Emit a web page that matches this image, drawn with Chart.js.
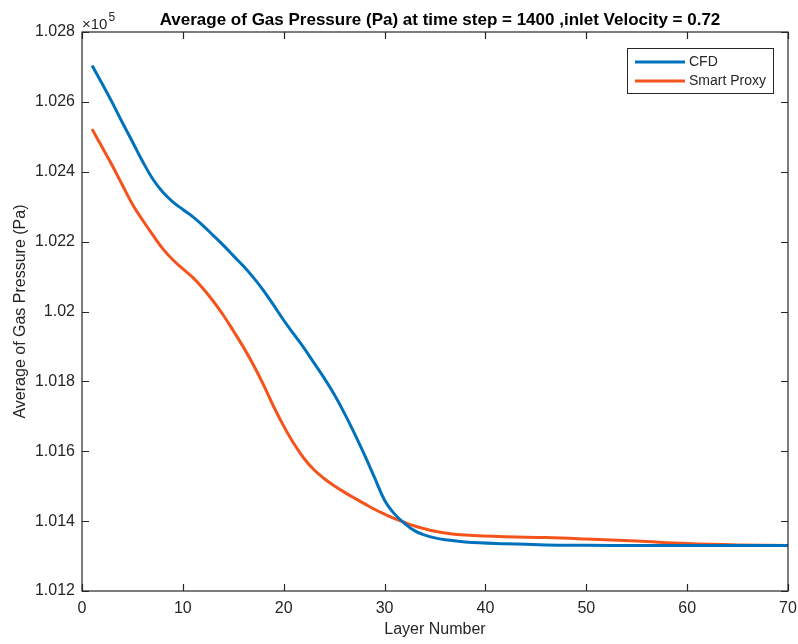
<!DOCTYPE html>
<html>
<head>
<meta charset="utf-8">
<script src="https://cdn.jsdelivr.net/npm/chart.js@4"></script>
<style>
  html, body { margin: 0; padding: 0; background: #ffffff; }
  #wrap { width: 798px; height: 644px; }
</style>
</head>
<body>
<div id="wrap"><canvas id="c" width="798" height="644"></canvas></div>
<script>
// ---- data (pressure in units of 1e5 Pa) ----
const layers = [1, 2, 3, 4, 5, 6, 7, 8, 9, 10, 11, 12, 13, 14, 15, 16, 17, 18, 19, 20,
                21, 22, 23, 24, 25, 26, 27, 28, 29, 30, 31, 32, 33, 34, 35, 36, 38, 42, 46, 50, 55, 60, 65, 70];
const cfdValues = [1.02704, 1.02652, 1.02598, 1.02541, 1.02486, 1.02430, 1.02380, 1.02342, 1.02314, 1.02292,
                   1.02271, 1.02246, 1.02218, 1.02190, 1.02160, 1.02130, 1.02097, 1.02060, 1.02018, 1.01975,
                   1.01935, 1.01896, 1.01853, 1.01810, 1.01763, 1.01710, 1.01652, 1.01590, 1.01525, 1.01460,
                   1.01420, 1.01393, 1.01372, 1.01360, 1.01352, 1.01347, 1.01340, 1.01335, 1.01332, 1.01331,
                   1.01330, 1.01330, 1.01330, 1.01330];
const proxyValues = [1.02522, 1.02470, 1.02418, 1.02362, 1.02307, 1.02262, 1.02220, 1.02180, 1.02148, 1.02122,
                     1.02097, 1.02066, 1.02030, 1.01990, 1.01945, 1.01898, 1.01847, 1.01790, 1.01728, 1.01672,
                     1.01622, 1.01580, 1.01547, 1.01522, 1.01501, 1.01483, 1.01466, 1.01450, 1.01434, 1.01420,
                     1.01407, 1.01396, 1.01386, 1.01378, 1.01371, 1.01366, 1.01360, 1.01355, 1.01353, 1.01349,
                     1.01343, 1.01336, 1.01332, 1.01330];
const seriesNames = ['CFD', 'Smart Proxy'];
const xTickValues = [0, 10, 20, 30, 40, 50, 60, 70];
const yTickValues = [1.012, 1.014, 1.016, 1.018, 1.020, 1.022, 1.024, 1.026, 1.028];
const titleText = 'Average of Gas Pressure (Pa) at time step = 1400 ,inlet Velocity = 0.72';
const xTitle = 'Layer Number';
const yTitle = 'Average of Gas Pressure (Pa)';

const AX = '#262626';
const FONT = 'Arial, "Liberation Sans", sans-serif';

const matlabAxes = {
  id: 'matlabAxes',
  afterDraw(chart) {
    const { ctx, chartArea: a, scales: { x, y } } = chart;
    ctx.save();
    // box
    ctx.strokeStyle = AX;
    ctx.lineWidth = 1.2;
    ctx.strokeRect(a.left, a.top, a.width, a.height);
    // inward ticks on all four sides
    const tl = 7;
    ctx.beginPath();
    x.ticks.forEach(t => {
      const px = Math.round(x.getPixelForValue(t.value)) + 0.5;
      ctx.moveTo(px, a.bottom); ctx.lineTo(px, a.bottom - tl);
      ctx.moveTo(px, a.top); ctx.lineTo(px, a.top + tl);
    });
    y.ticks.forEach(t => {
      const py = Math.round(y.getPixelForValue(t.value)) + 0.5;
      ctx.moveTo(a.left, py); ctx.lineTo(a.left + tl, py);
      ctx.moveTo(a.right, py); ctx.lineTo(a.right - tl, py);
    });
    ctx.stroke();

    // exponent label
    ctx.fillStyle = AX;
    ctx.textBaseline = 'alphabetic';
    ctx.textAlign = 'left';
    ctx.font = '15px ' + FONT;
    ctx.fillText('\u00d710', a.left, a.top - 3);
    const w = ctx.measureText('\u00d710').width;
    ctx.font = '12px ' + FONT;
    ctx.fillText('5', a.left + w + 1, a.top - 11);

    // title
    ctx.font = 'bold 17px ' + FONT;
    ctx.textAlign = 'center';
    ctx.textBaseline = 'middle';
    ctx.fillStyle = '#000000';
    ctx.fillText(titleText, (a.left + a.right) / 2 + 5, 20);

    // legend
    const lx = 627, ly = 48, lw = 146, lh = 45;
    ctx.fillStyle = '#ffffff';
    ctx.fillRect(lx, ly, lw, lh);
    ctx.strokeStyle = AX;
    ctx.lineWidth = 1;
    ctx.strokeRect(lx + 0.5, ly + 0.5, lw, lh);
    ctx.font = '14px ' + FONT;
    ctx.textAlign = 'left';
    ctx.textBaseline = 'middle';
    chart.data.datasets.forEach((ds, i) => {
      const yy = ly + 14 + i * 19;
      ctx.strokeStyle = ds.borderColor;
      ctx.lineWidth = 3;
      ctx.beginPath();
      ctx.moveTo(lx + 8, yy); ctx.lineTo(lx + 58, yy);
      ctx.stroke();
      ctx.fillStyle = AX;
      ctx.fillText(ds.label, lx + 62, yy);
    });
    ctx.restore();
  }
};

new Chart(document.getElementById('c'), {
  type: 'line',
  data: {
    datasets: [
      {
        label: seriesNames[0],
        data: layers.map((l, i) => ({ x: l, y: cfdValues[i] })),
        borderColor: '#0072BD',
        borderWidth: 3,
        pointRadius: 0,
        tension: 0.4,
        fill: false
      },
      {
        label: seriesNames[1],
        data: layers.map((l, i) => ({ x: l, y: proxyValues[i] })),
        borderColor: '#F5531C',
        borderWidth: 3,
        pointRadius: 0,
        tension: 0.4,
        fill: false
      }
    ]
  },
  options: {
    responsive: false,
    animation: false,
    devicePixelRatio: 1,
    layout: { padding: { left: 0, right: 10, top: 32, bottom: 0 } },
    plugins: {
      legend: { display: false },
      title: { display: false },
      tooltip: { enabled: false }
    },
    scales: {
      x: {
        type: 'linear',
        min: 0,
        max: 70,
        afterBuildTicks(s) { s.ticks = xTickValues.map(v => ({ value: v })); },
        afterFit(s) { s.height = 53; s.paddingLeft = 0; s.paddingRight = 0; },
        grid: { display: false, drawTicks: false },
        border: { display: false },
        ticks: { color: AX, font: { family: FONT, size: 16 }, padding: 8, maxRotation: 0, autoSkip: false,
                 callback: v => String(v) },
        title: { display: true, text: xTitle, color: AX, font: { family: FONT, size: 16 }, padding: { top: 0, bottom: 5 } }
      },
      y: {
        type: 'linear',
        min: 1.012,
        max: 1.028,
        afterBuildTicks(s) { s.ticks = yTickValues.map(v => ({ value: v })); },
        afterFit(s) { s.width = 82; },
        grid: { display: false, drawTicks: false },
        border: { display: false },
        ticks: { color: AX, font: { family: FONT, size: 16 }, padding: 7, autoSkip: false,
                 callback: v => String(Number(v.toFixed(3))) },
        title: { display: true, text: yTitle, color: AX, font: { family: FONT, size: 16 }, padding: { top: 11, bottom: 0 } }
      }
    }
  },
  plugins: [matlabAxes]
});
</script>
</body>
</html>
